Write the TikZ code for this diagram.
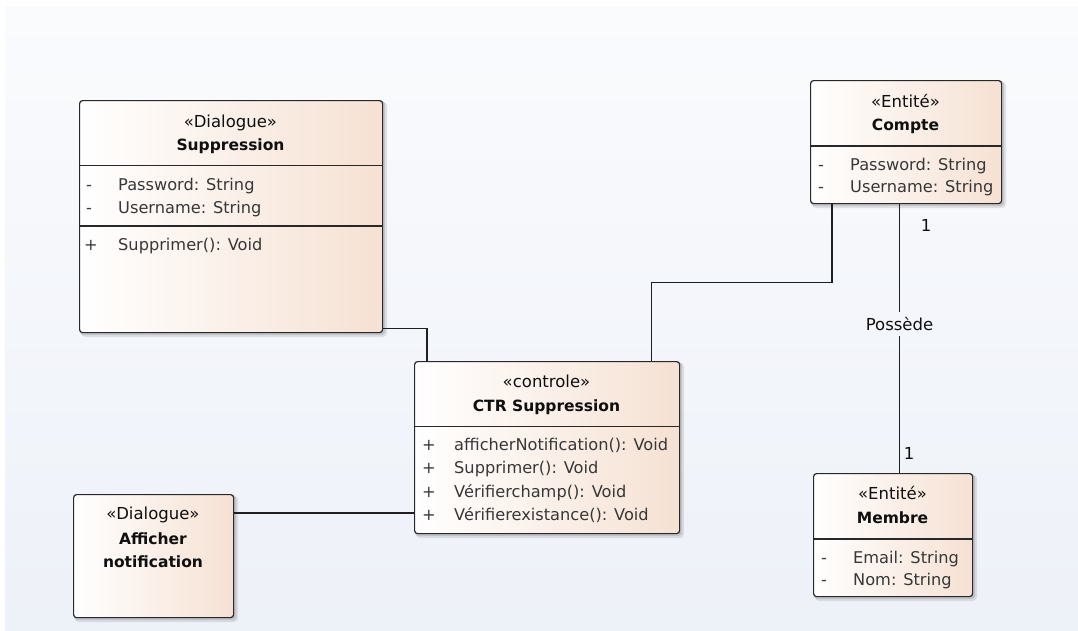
\documentclass[tikz,border=0pt]{standalone}
\usepackage{fontspec}
\setmainfont{DejaVu Sans}
\usetikzlibrary{calc}

\definecolor{bgtop}{RGB}{250,251,253}
\definecolor{bgbot}{RGB}{237,241,248}
\definecolor{peach}{RGB}{246,225,211}
\definecolor{boxline}{RGB}{40,40,40}
\definecolor{shadowc}{RGB}{120,120,125}
\definecolor{attrc}{RGB}{55,55,55}
\definecolor{titlec}{RGB}{15,15,15}

\tikzset{
  classbox/.style={draw=boxline, line width=1.2pt, rounded corners=3pt,
    left color=white, right color=peach, inner sep=0pt, anchor=north west},
  sep/.style={draw=boxline, line width=1.2pt},
  conn/.style={draw=black!88, line width=1.4pt},
  stereo/.style={font=\fontsize{16.5}{19}\selectfont, text=titlec, inner sep=0pt, anchor=base},
  title/.style={font=\fontsize{15.5}{18}\selectfont\bfseries, text=titlec, inner sep=0pt, anchor=base},
  attr/.style={font=\fontsize{16.2}{19}\selectfont, text=attrc, inner sep=0pt, anchor=base west},
  lbl/.style={font=\fontsize{16.5}{19}\selectfont, text=titlec, inner sep=0pt},
}

% class box with a soft drop shadow: name, x1, y1, x2, y2
\newcommand\umlbox[5]{%
  \fill[shadowc, opacity=.18, rounded corners=4pt] (#2+2,#3+2) rectangle (#4+5,#5+5);
  \fill[shadowc, opacity=.25, rounded corners=3pt] (#2+1,#3+1) rectangle (#4+3,#5+3);
  \node[classbox, minimum width=#4pt-#2pt, minimum height=#5pt-#3pt] (#1) at (#2,#3) {};
}
% compartment separator at a given depth below the top of a box
\newcommand\compline[2]{%
  \draw[sep] ($(#1.north west)+(0,#2)$) -- ($(#1.north east)+(0,#2)$);
}

\begin{document}
\begin{tikzpicture}[x=1pt, y=-1pt]
\useasboundingbox (0,0) rectangle (1078,630);
\fill[white] (0,0) rectangle (1078,630);
\shade[top color=bgtop, bottom color=bgbot] (5,6) rectangle (1078,630);

% ---- boxes ----
\umlbox{supp}{79}{100}{382}{332}
\umlbox{ctr}{414}{361}{679}{533}
\umlbox{compte}{810}{80}{1001}{203}
\umlbox{membre}{813}{473}{972}{596}
\umlbox{affich}{73}{494}{233}{617}

\compline{supp}{65.5}
\compline{supp}{126}
\compline{ctr}{65.5}
\compline{compte}{66}
\compline{membre}{66}

% ---- Suppression ----
\node[stereo] (supp-st) at (230.5,127) {«Dialogue»};
\node[title]  (supp-ti) at (230.5,150) {Suppression};
\node[attr] (supp-v1) at (86,190) {-};
\node[attr] (supp-a1) at (118,190) {Password: String};
\node[attr] (supp-v2) at (86,213) {-};
\node[attr] (supp-a2) at (118,213) {Username: String};
\node[attr] (supp-v3) at (84,250) {+};
\node[attr] (supp-m1) at (118,250) {Supprimer(): Void};

% ---- CTR Suppression ----
\node[stereo] (ctr-st) at (546.5,387) {«controle»};
\node[title]  (ctr-ti) at (546.5,411) {CTR Suppression};
\node[attr] (ctr-v1) at (422,450) {+};
\node[attr] (ctr-m1) at (454,450) {afficherNotification(): Void};
\node[attr] (ctr-v2) at (422,473.5) {+};
\node[attr] (ctr-m2) at (454,473.5) {Supprimer(): Void};
\node[attr] (ctr-v3) at (422,497) {+};
\node[attr] (ctr-m3) at (454,497) {Vérifierchamp(): Void};
\node[attr] (ctr-v4) at (422,520) {+};
\node[attr] (ctr-m4) at (454,520) {Vérifierexistance(): Void};

% ---- Compte ----
\node[stereo] (compte-st) at (905.5,107) {«Entité»};
\node[title]  (compte-ti) at (905.5,130) {Compte};
\node[attr] (compte-v1) at (818,170) {-};
\node[attr] (compte-a1) at (850,170) {Password: String};
\node[attr] (compte-v2) at (818,192) {-};
\node[attr] (compte-a2) at (850,192) {Username: String};

% ---- Membre ----
\node[stereo] (membre-st) at (892.5,499) {«Entité»};
\node[title]  (membre-ti) at (892.5,523) {Membre};
\node[attr] (membre-v1) at (821,563) {-};
\node[attr] (membre-a1) at (853,563) {Email: String};
\node[attr] (membre-v2) at (821,585) {-};
\node[attr] (membre-a2) at (853,585) {Nom: String};

% ---- Afficher notification ----
\node[stereo] (affich-st) at (153,519) {«Dialogue»};
\node[title]  (affich-t1) at (153,544) {Afficher};
\node[title]  (affich-t2) at (153,567) {notification};

% ---- connectors ----
\draw[conn] ($(supp.south east)+(0,-5)$) -| ($(ctr.north west)+(13,0)$);
\draw[conn] ($(compte.south west)+(22,0)$) -- ++(0,78) -| ($(ctr.north east)+(-29,0)$);
\draw[conn] ($(affich.north east)+(0,19)$) -- ($(ctr.north west)+(0,152)$);

\node[lbl, minimum height=24pt] (possede) at (899.5,324) {Possède};
\draw[conn] ($(compte.south west)+(89.5,0)$) -- (possede.north);
\draw[conn] (possede.south) -- ($(membre.north west)+(86.5,0)$);
\node[lbl] (mult-top) at (926,225) {1};
\node[lbl] (mult-bot) at (909,453) {1};
\end{tikzpicture}
\end{document}
